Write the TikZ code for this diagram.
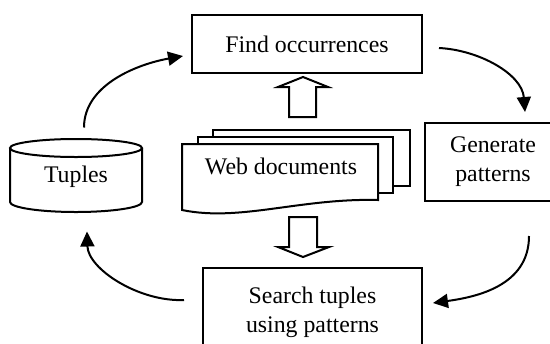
\documentclass[tikz,border=0pt]{standalone}
\usepackage{fontspec}
\setmainfont{Liberation Serif}
\usetikzlibrary{arrows.meta,calc}
\begin{document}
\begin{tikzpicture}[x=0.5pt,y=-0.5pt,
  line width=1pt,
  font=\fontsize{11.9}{14.5}\selectfont,
  box/.style={draw,line width=1pt,rectangle,inner sep=0pt,align=center},
  flow/.style={line width=1pt,-{Triangle[length=7.5pt,width=7pt]}},
  hollow/.style={draw,line width=1pt,fill=white,line join=miter},
  sheet/.style={draw,line width=1pt,fill=white}]
\useasboundingbox (0,0) rectangle (550,343);
\clip (0,0) rectangle (550,343);

% process boxes
\node[box,minimum width=115pt,minimum height=29pt] (find) at (307,44) {Find occurrences};
\node[box,minimum width=68pt,minimum height=39pt] (gen) at (493,162) {Generate\\patterns};
\node[box,minimum width=109.5pt,minimum height=44pt] (search) at (312.5,312) {Search tuples\\using patterns};

% tuples cylinder
\draw (10,148) -- (10,202) arc[start angle=180,end angle=360,x radius=33pt,y radius=5pt] -- (142,148);
\draw (76,148) ellipse[x radius=33pt,y radius=4.5pt];
\node[inner sep=0pt,minimum width=66pt,minimum height=36.5pt] (tuples) at (76,177) {Tuples};

% web documents
\draw[sheet] (213,130) rectangle (410,186);
\draw[sheet] (198,137) rectangle (393,193);
\draw[sheet] (182,144) -- (378,144) -- (378,200) .. controls (300,198) and (240,222) .. (182,210) -- cycle;
\node (web) at (281,166) {Web documents};

% hollow block arrows
\draw[hollow] (289,117) -- (289,87) -- (278,87) -- (303,77) -- (328,87) -- (316,87) -- (316,117) -- cycle;
\draw[hollow] (289,217) -- (289,247) -- (278,247) -- (303,257) -- (329,247) -- (317,247) -- (317,217) -- cycle;

% cycle connectors
\draw[flow] ($(tuples.north)+(8,-12)$) .. controls +(0,-43) and +(-45,8) .. ($(find.west)+(-8,12)$);
\draw[flow] ($(find.east)+(16,4)$) .. controls +(40,2) and +(-3,-38) .. ($(gen.north)+(32,-10)$);
\draw[flow] ($(gen.south)+(36,34)$) .. controls +(0,50) and +(43,-6) .. ($(search.east)+(10,-9)$);
\draw[flow] ($(search.west)+(-18,-12)$) .. controls +(-45,2) and +(1,37.5) .. ($(tuples.south)+(11,17)$);
\end{tikzpicture}
\end{document}
